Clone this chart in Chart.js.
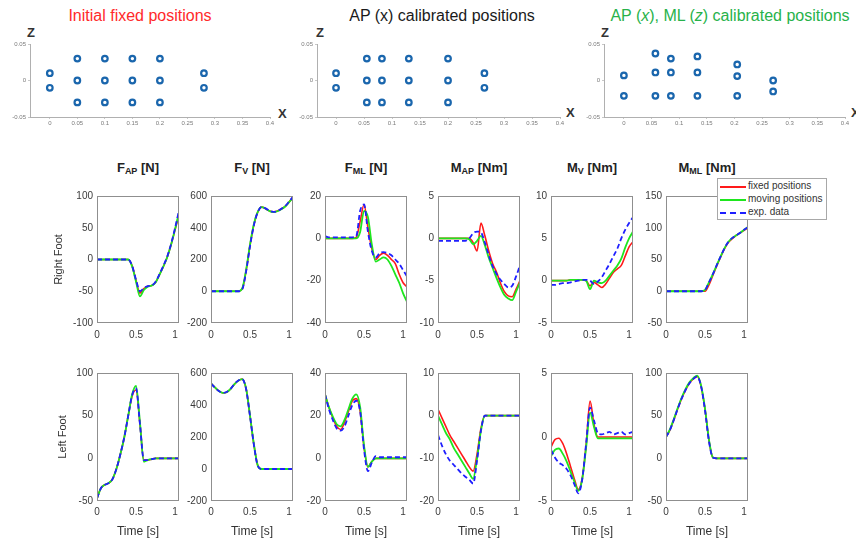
<!DOCTYPE html>
<html>
<head>
<meta charset="utf-8">
<script src="https://cdn.jsdelivr.net/npm/chart.js@4.4.1/dist/chart.umd.min.js"></script>
<style>
  html, body { margin: 0; padding: 0; background: #fff; }
  #fig { position: relative; width: 856px; height: 545px; overflow: hidden;
         font-family: "Liberation Sans", Arial, Helvetica, sans-serif; color: #262626; }
  #fig canvas { position: absolute; }
  .txt { position: absolute; white-space: nowrap; }
  .maintitle { font-size: 16px; top: 7px; width: 300px; text-align: center; }
  .axname { font-size: 13px; font-weight: bold; color: #333; }
  .colhead { font-size: 13px; font-weight: bold; width: 110px; text-align: center; top: 160px; color: #222; }
  .colhead sub { font-size: 9px; vertical-align: -2px; }
  .legend { position: absolute; left: 717px; top: 178px; width: 108px; height: 40px;
            border: 1px solid #a8a8a8; background: #fff; z-index: 5; font-size: 10px; color: #333; }
  .legend .row { position: absolute; left: 2px; width: 104px; height: 12px; }
  .legend .sample { position: absolute; left: 0; top: 6px; width: 26px; height: 0; }
  .legend .lab { position: absolute; left: 28px; top: 0; line-height: 12px; white-space: nowrap; }
</style>
</head>
<body>
<div id="fig">
  <div class="txt maintitle" style="left:-10px;color:#ff2a2a;">Initial fixed positions</div>
  <div class="txt maintitle" style="left:292px;color:#1a1a1a;">AP (x) calibrated positions</div>
  <div class="txt maintitle" style="left:580px;color:#27b24a;">AP (<i>x</i>), ML (<i>z</i>) calibrated positions</div>

  <div class="txt axname" style="left:27px;top:25px;">Z</div>
  <div class="txt axname" style="left:316px;top:25px;">Z</div>
  <div class="txt axname" style="left:601px;top:25px;">Z</div>
  <div class="txt axname" style="left:278px;top:106px;">X</div>
  <div class="txt axname" style="left:566px;top:105px;">X</div>
  <div class="txt axname" style="left:851px;top:105px;">X</div>

  <div class="txt colhead" style="left:83px;">F<sub>AP</sub> [N]</div>
  <div class="txt colhead" style="left:197px;">F<sub>V</sub> [N]</div>
  <div class="txt colhead" style="left:311px;">F<sub>ML</sub> [N]</div>
  <div class="txt colhead" style="left:424px;">M<sub>AP</sub> [Nm]</div>
  <div class="txt colhead" style="left:537px;">M<sub>V</sub> [Nm]</div>
  <div class="txt colhead" style="left:652px;">M<sub>ML</sub> [Nm]</div>

  <div class="legend">
    <div class="row" style="top:1px;"><div class="sample" style="border-top:2px solid #ff1a1a;"></div><div class="lab">fixed positions</div></div>
    <div class="row" style="top:14px;"><div class="sample" style="border-top:2px solid #1ee61e;"></div><div class="lab">moving positions</div></div>
    <div class="row" style="top:27px;"><div class="sample" style="border-top:2px dashed #1f1fff;"></div><div class="lab">exp. data</div></div>
  </div>
</div>

<script>
// ---- sensor positions (x = AP, z = ML) in metres ----
const fixedX = [0, 0, 0.05, 0.05, 0.05, 0.1, 0.1, 0.1, 0.15, 0.15, 0.15, 0.2, 0.2, 0.2, 0.28, 0.28];
const fixedZ = [0.01, -0.01, 0.03, 0, -0.03, 0.03, 0, -0.03, 0.03, 0, -0.03, 0.03, 0, -0.03, 0.01, -0.01];
const apX = [0, 0, 0.055, 0.055, 0.055, 0.082, 0.082, 0.082, 0.13, 0.13, 0.13, 0.2, 0.2, 0.2, 0.265, 0.265];
const apZ = [0.01, -0.01, 0.03, 0, -0.03, 0.03, 0, -0.03, 0.03, 0, -0.03, 0.03, 0, -0.03, 0.01, -0.01];
const apmlX = [0, 0, 0.057, 0.057, 0.057, 0.085, 0.085, 0.085, 0.133, 0.133, 0.133, 0.205, 0.205, 0.205, 0.27, 0.27];
const apmlZ = [0.007, -0.021, 0.037, 0.011, -0.021, 0.030, 0.011, -0.021, 0.033, 0.011, -0.021, 0.022, 0.006, -0.021, 0.0, -0.015];
const posXTicks = [0, 0.05, 0.1, 0.15, 0.2, 0.25, 0.3, 0.35, 0.4];
const posZTicks = [-0.05, 0, 0.05];

// ---- time base (s) ----
const timeRight = [0, 0.05, 0.1, 0.15, 0.2, 0.25, 0.3, 0.35, 0.4, 0.45, 0.5, 0.55, 0.6, 0.65, 0.7, 0.75, 0.8, 0.85, 0.9, 0.95, 1.0, 1.05];
const timeLeft  = [0, 0.05, 0.1, 0.15, 0.2, 0.25, 0.3, 0.35, 0.4, 0.45, 0.5, 0.55, 0.6, 0.65, 0.7, 0.75, 0.8, 0.85, 0.9, 0.95, 1.0, 1.05];
const timeTicks = [0, 0.5, 1];

// ---- right foot ----
const rFapFixed  = [0,0,0,0,0,0,0,0,0,-10,-33,-53,-46,-42,-41,-36,-24,-11,4,24,47,70];
const rFapMoving = [0,0,0,0,0,0,0,0,0,-11,-35,-58,-48,-43,-41,-36,-24,-11,4,24,48,74];
const rFapExp    = [0,0,0,0,0,0,0,0,0,-10,-32,-50,-45,-42,-41,-35,-23,-10,5,25,50,77];

const rFvFixed  = [0,0,0,0,0,0,0,0,15,130,290,420,500,530,520,505,500,505,518,535,562,592];
const rFvMoving = [0,0,0,0,0,0,0,0,18,135,295,425,502,530,520,505,499,504,517,534,561,590];
const rFvExp    = [0,0,0,0,0,0,0,0,12,125,285,418,500,532,522,506,500,505,519,537,565,595];

const rFmlFixed  = [0,0,0,0,0,0,0,0,0.5,8,16,5,-5,-10,-8,-7,-8,-10,-12,-17,-21,-23];
const rFmlMoving = [0,0,0,0,0,0,0,0,0,3,13,10,-3,-11,-10,-9,-10,-13,-17,-21,-26,-30];
const rFmlExp    = [1,0.5,0.5,0.5,0.5,0.5,0.5,0.5,1,13,16,3,-6,-9,-7,-6.5,-7,-8,-10,-12,-15,-18];

const rMapFixed  = [0,0,0,0,0,0,0,0,0,-0.5,-1.5,1.8,0.3,-1.5,-3,-4,-5.3,-6.3,-6.8,-6.9,-6,-5];
const rMapMoving = [0,0,0,0,0,0,0,0,-0.1,-0.7,-0.3,0.3,-0.8,-2.3,-3.5,-4.7,-5.8,-6.7,-7.1,-7.3,-6.3,-5.2];
const rMapExp    = [-0.3,-0.3,-0.3,-0.3,-0.3,-0.3,-0.3,-0.3,0,0.6,0.8,0.7,-0.5,-2,-3.3,-4.2,-4.9,-5.4,-5.8,-5.6,-4.5,-3.2];

const rMvFixed  = [0,0,0,0,0,0.1,0.1,0.1,0.1,0,-0.6,-0.2,-0.5,-0.8,-0.4,0.3,1,1.4,1.8,2.9,4,4.6];
const rMvMoving = [0,0,0,0,0,0.1,0.1,0.1,0.1,0,-1,0,-0.2,-0.3,0,0.6,1.2,1.8,2.6,3.9,5,5.8];
const rMvExp    = [-0.5,-0.5,-0.4,-0.3,-0.3,-0.2,-0.1,0,0.1,0.1,0,-0.4,-0.1,0.4,1.2,2,2.9,3.8,5,6,6.8,7.5];

const rMmlFixed  = [0,0,0,0,0,0,0,0,0,0,0,10,25,40,54,67,77,83,88,92,96,100];
const rMmlMoving = [0,0,0,0,0,0,0,0,0,0,2,14,27,41,55,68,78,84,88,92,97,101];
const rMmlExp    = [0,0,0,0,0,0,0,0,0,0,2,14,27,41,55,68,78,84,88,92,97,101];

// ---- left foot ----
const lFapFixed  = [-47,-35,-31,-29,-24,-12,5,25,50,73,80,40,-2,-2,-1,0,0,0,0,0,0,0];
const lFapMoving = [-47,-35,-31,-29,-24,-12,5,25,50,75,85,42,-4,-2,-1,0,0,0,0,0,0,0];
const lFapExp    = [-47,-35,-31,-29,-24,-12,5,25,50,74,82,40,-2,-2,-1,0,0,0,0,0,0,0];

const lFvFixed  = [535,510,488,476,480,500,530,552,562,500,330,150,20,0,0,0,0,0,0,0,0,0];
const lFvMoving = [535,510,488,476,480,500,530,552,562,502,332,152,20,0,0,0,0,0,0,0,0,0];
const lFvExp    = [533,509,487,476,481,501,531,553,561,498,328,148,18,0,0,0,0,0,0,0,0,0];

const lFmlFixed  = [30,24,19,15,13.5,17,22,27,28,22,5,-4,-1.5,0,0,0,0,0,0,0,0,0];
const lFmlMoving = [30,24,19.5,16,15,18,23,28,30,24,6,-4,-1.5,0,0,0,0,0,0,0,0,0];
const lFmlExp    = [30,23,18,14,13,15,20,25,27,22,4,-6,-2,1,0.5,0.5,0.5,0.5,0.5,0.5,0.5,0.5];

const lMapFixed  = [1.5,-0.5,-2.5,-4.5,-6,-7.5,-9,-10.5,-12,-13,-9,-3,0,0,0,0,0,0,0,0,0,0];
const lMapMoving = [0,-2,-4,-5.5,-7.5,-9,-10.5,-12,-13.5,-14.8,-10,-3.5,0,0,0,0,0,0,0,0,0,0];
const lMapExp    = [-4.5,-7,-9,-10.5,-11.5,-12.5,-13.5,-14.3,-15,-15.9,-10.5,-3.5,0,0,0,0,0,0,0,0,0,0];

const lMvFixed  = [-0.8,-0.2,-0.1,-0.5,-1.3,-2.3,-3.3,-4.1,-3.2,-0.6,2.8,1.0,0,0,0,0,0,0,0,0,0,0];
const lMvMoving = [-1.5,-1.0,-0.9,-1.3,-1.9,-2.7,-3.5,-4.2,-3.3,-0.8,1.9,0.8,-0.1,-0.1,-0.1,-0.1,-0.1,-0.1,-0.1,-0.1,-0.1,-0.1];
const lMvExp    = [-1.0,-1.6,-2.0,-2.2,-2.5,-3.0,-3.7,-4.4,-3.3,-0.5,2.3,1.3,0.3,0.2,0.3,0.4,0.2,0.3,0.4,0.2,0.3,0.4];

const lMmlFixed  = [25,33,45,58,70,80,88,93,96,84,57,21,1,0,0,0,0,0,0,0,0,0];
const lMmlMoving = [25,34,46,59,71,81,89,94,97,85,58,22,1,0,0,0,0,0,0,0,0,0];
const lMmlExp    = [25,33,45,58,70,80,88,93,96,84,56,20,1,0,0,0,0,0,0,0,0,0];

// ---- y-axis ticks per panel ----
const rFapTicks = [-100, -50, 0, 50, 100];
const rFvTicks  = [-200, 0, 200, 400, 600];
const rFmlTicks = [-40, -20, 0, 20];
const rMapTicks = [-10, -5, 0, 5];
const rMvTicks  = [-5, 0, 5, 10];
const rMmlTicks = [-50, 0, 50, 100, 150];
const lFapTicks = [-50, 0, 50, 100];
const lFvTicks  = [-200, 0, 200, 400, 600];
const lFmlTicks = [-20, 0, 20, 40];
const lMapTicks = [-20, -10, 0, 10];
const lMvTicks  = [-5, 0, 5];
const lMmlTicks = [-50, 0, 50, 100];

const seriesNames = ['fixed positions', 'moving positions', 'exp. data'];
const rowNames = ['Right Foot', 'Left Foot'];
const timeTitle = 'Time [s]';

// ---------------------------------------------------------------
const fig = document.getElementById('fig');
const FONT = '"Liberation Sans", Arial, Helvetica, sans-serif';
Chart.defaults.font.family = FONT;
Chart.defaults.color = '#3a3a3a';

function addCanvas(left, top, w, h) {
  const c = document.createElement('canvas');
  c.width = w; c.height = h;
  c.style.left = left + 'px'; c.style.top = top + 'px';
  c.style.width = w + 'px'; c.style.height = h + 'px';
  fig.appendChild(c);
  return c;
}

const boxPlugin = {
  id: 'axesBox',
  afterDatasetsDraw(chart) {
    const { ctx, chartArea: a } = chart;
    ctx.save();
    ctx.strokeStyle = '#8f8f8f';
    ctx.lineWidth = 1;
    ctx.strokeRect(Math.round(a.left) + 0.5, Math.round(a.top) + 0.5,
                   Math.round(a.right - a.left) - 1, Math.round(a.bottom - a.top) - 1);
    ctx.restore();
  }
};

function fixedTicks(values) {
  return (scale) => { scale.ticks = values.map(v => ({ value: v })); };
}

function pts(xs, ys) { return xs.map((x, i) => ({ x: x, y: ys[i] })); }

// one force / moment panel
function linePanel(o) {
  const AW = 45, PT = 10, PR = 12;
  const AH = o.bottomRow ? 40 : 22;
  const cv = addCanvas(o.left - AW, o.top - PT, AW + o.w + PR, PT + o.h + AH);
  const mk = (label, vals, color, width, dash, order) => ({
    label, data: pts(o.time, vals), borderColor: color, borderWidth: width,
    borderDash: dash, pointRadius: 0, order, cubicInterpolationMode: 'monotone', fill: false
  });
  new Chart(cv, {
    type: 'line',
    data: { datasets: [
      mk(seriesNames[0], o.fixed,  '#ff1a1a', 1.6, [], 2),
      mk(seriesNames[1], o.moving, '#1ee61e', 1.8, [], 1),
      mk(seriesNames[2], o.exp,    '#1f1fff', 1.8, [5, 3], 0)
    ]},
    options: {
      responsive: false, animation: false, events: [],
      layout: { padding: { top: PT, right: PR, left: 0, bottom: 0 } },
      plugins: { legend: { display: false }, tooltip: { enabled: false } },
      scales: {
        x: {
          type: 'linear', min: 0, max: 1.05,
          afterBuildTicks: fixedTicks(timeTicks),
          afterFit: (s) => { s.height = AH; },
          grid: { display: false, drawTicks: false }, border: { display: false },
          ticks: { font: { size: 10 }, padding: o.bottomRow ? 5 : 6, maxRotation: 0, autoSkip: false,
                   callback: (v) => String(v) },
          title: { display: !!o.bottomRow, text: timeTitle, font: { size: 12 }, color: '#333',
                   padding: { top: 0, bottom: 2 } }
        },
        y: {
          min: o.yTicks[0], max: o.yTicks[o.yTicks.length - 1],
          afterBuildTicks: fixedTicks(o.yTicks),
          afterFit: (s) => { s.width = AW; },
          grid: { display: false, drawTicks: false }, border: { display: false },
          ticks: { font: { size: 10 }, padding: 4, autoSkip: false, callback: (v) => String(v) },
          title: { display: !!o.yTitle, text: o.yTitle || '', font: { size: 11 }, color: '#333',
                   padding: { top: o.yTitlePad || 0, bottom: 0 } }
        }
      }
    },
    plugins: [boxPlugin]
  });
}

// one sensor-layout panel
function posPanel(o) {
  const AW = 30, PT = 8, PR = 8, AH = 16;
  const top = 44, h = 73;
  const cv = addCanvas(o.left - AW, top - PT, AW + o.w + PR, PT + h + AH);
  new Chart(cv, {
    type: 'scatter',
    data: { datasets: [{ data: pts(o.xs, o.zs), pointRadius: 2.8, pointBorderWidth: 2.2,
                         pointBorderColor: '#1a66ad', pointBackgroundColor: '#ffffff' }] },
    options: {
      responsive: false, animation: false, events: [],
      layout: { padding: { top: PT, right: PR, left: 0, bottom: 0 } },
      plugins: { legend: { display: false }, tooltip: { enabled: false } },
      scales: {
        x: {
          type: 'linear', min: o.xMin, max: 0.4,
          afterBuildTicks: fixedTicks(posXTicks),
          afterFit: (s) => { s.height = AH; },
          grid: { display: true, drawOnChartArea: false, drawTicks: true, tickLength: 2, color: '#c8c8c8' },
          border: { display: true, color: '#b0b0b0' },
          ticks: { font: { size: 6 }, color: '#7a7a7a', padding: 1, maxRotation: 0, autoSkip: false,
                   callback: (v) => String(v) }
        },
        y: {
          min: -0.05, max: 0.05,
          afterBuildTicks: fixedTicks(posZTicks),
          afterFit: (s) => { s.width = AW; },
          grid: { display: true, drawOnChartArea: false, drawTicks: true, tickLength: 2, color: '#c8c8c8' },
          border: { display: true, color: '#b0b0b0' },
          ticks: { font: { size: 6 }, color: '#7a7a7a', padding: 2, autoSkip: false,
                   callback: (v) => String(v) }
        }
      }
    }
  });
}

posPanel({ left: 30,  w: 240, xMin: -0.036, xs: fixedX, zs: fixedZ });
posPanel({ left: 317, w: 243, xMin: -0.034, xs: apX,    zs: apZ });
posPanel({ left: 604, w: 241, xMin: -0.036, xs: apmlX,  zs: apmlZ });

const colLeft = [97, 211, 325, 438, 551, 666];
const PW = 82;

const rightRow = [
  [rFapFixed, rFapMoving, rFapExp, rFapTicks],
  [rFvFixed,  rFvMoving,  rFvExp,  rFvTicks],
  [rFmlFixed, rFmlMoving, rFmlExp, rFmlTicks],
  [rMapFixed, rMapMoving, rMapExp, rMapTicks],
  [rMvFixed,  rMvMoving,  rMvExp,  rMvTicks],
  [rMmlFixed, rMmlMoving, rMmlExp, rMmlTicks]
];
const leftRow = [
  [lFapFixed, lFapMoving, lFapExp, lFapTicks],
  [lFvFixed,  lFvMoving,  lFvExp,  lFvTicks],
  [lFmlFixed, lFmlMoving, lFmlExp, lFmlTicks],
  [lMapFixed, lMapMoving, lMapExp, lMapTicks],
  [lMvFixed,  lMvMoving,  lMvExp,  lMvTicks],
  [lMmlFixed, lMmlMoving, lMmlExp, lMmlTicks]
];

rightRow.forEach((p, i) => linePanel({
  left: colLeft[i], top: 196, w: PW, h: 127, time: timeRight,
  fixed: p[0], moving: p[1], exp: p[2], yTicks: p[3],
  yTitle: i === 0 ? rowNames[0] : null, yTitlePad: 0, bottomRow: false
}));
leftRow.forEach((p, i) => linePanel({
  left: colLeft[i], top: 373, w: PW, h: 128, time: timeLeft,
  fixed: p[0], moving: p[1], exp: p[2], yTicks: p[3],
  yTitle: i === 0 ? rowNames[1] : null, yTitlePad: 4, bottomRow: true
}));
</script>
</body>
</html>
